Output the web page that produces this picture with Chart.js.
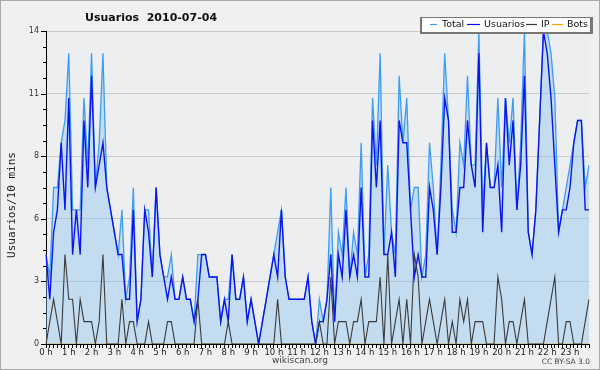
<!DOCTYPE html>
<html><head><meta charset="utf-8">
<script src="https://cdn.jsdelivr.net/npm/chart.js@4.4.0/dist/chart.umd.min.js"></script>
<style>html,body{margin:0;padding:0;background:#f0f0f0}canvas{display:block}</style>
</head><body>
<canvas id="c" width="600" height="370"></canvas>
<script>
const title = "Usuarios  2010-07-04";
const seriesNames = ["Total", "Usuarios", "IP", "Bots"];
const hourLabels = Array.from({length:24}, (_, h) => h + " h");
const yTickLabels = ["0", "3", "6", "8", "11", "14"];

const total = [
4,3,7,7,9,10,13,6,6,6,
11,8,13,7,9,13,7,6,5,4,
6,2,3,7,1,2,6,6,3,7,
4,3,3,4,2,2,3,2,2,1,
4,4,4,3,3,3,1,2,2,4,
2,2,3,1,2,1,0,1,2,3,
4,5,6,3,2,2,2,2,2,3,
1,0,2,1,2,7,1,5,4,7,
3,5,4,9,3,4,11,8,13,4,
8,5,4,12,9,11,6,7,7,3,
4,9,7,4,8,13,10,6,5,9,
8,12,8,8,14,6,9,7,7,11,
7,11,9,11,6,9,14,5,4,6,
10,14,14,13,11,5,6,7,8,9,
10,10,7,8];
const usuarios = [
4,2,5,6,9,6,11,4,6,4,
10,7,12,7,8,9,7,6,5,4,
4,2,2,6,1,2,6,5,3,7,
4,3,2,3,2,2,3,2,2,1,
2,4,4,3,3,3,1,2,1,4,
2,2,3,1,2,1,0,1,2,3,
4,3,6,3,2,2,2,2,2,3,
1,0,1,1,2,4,1,4,3,6,
3,4,3,7,3,3,10,7,10,4,
4,5,3,10,9,9,6,3,4,3,
3,7,6,4,7,11,10,5,5,7,
7,10,8,7,13,5,9,7,7,8,
5,11,8,10,6,8,12,5,4,6,
10,14,13,11,8,5,6,6,7,9,
10,10,6,6];
const ip = [
0,1,2,1,0,4,2,2,0,2,
1,1,1,0,1,4,0,0,0,0,
2,0,1,1,0,0,0,1,0,0,
0,0,1,1,0,0,0,0,0,0,
2,0,0,0,0,0,0,0,1,0,
0,0,0,0,0,0,0,0,0,0,
0,2,0,0,0,0,0,0,0,0,
0,0,1,0,0,3,0,1,1,1,
0,1,1,2,0,1,1,1,3,0,
4,0,1,2,0,2,0,4,3,0,
1,2,1,0,1,2,0,1,0,2,
1,2,0,1,1,1,0,0,0,3,
2,0,1,1,0,1,2,0,0,0,
0,0,1,2,3,0,0,1,1,0,
0,0,1,2];
const bots = new Array(144).fill(0);

// 10-minute slots, label only on the hour
const slots = [];
for (let h = 0; h < 24; h++) for (let m = 0; m < 60; m += 10) slots.push(h + ":" + (m < 10 ? "0" : "") + m);

const colors = { total: "#3d9cf5", usu: "#0a14f0", ip: "#3a3a3a", bots: "#ffa500", fill: "rgba(140,196,240,0.42)" };

const chromePlugin = {
  id: "chrome",
  beforeDraw(chart) {
    const ctx = chart.ctx, a = chart.chartArea;
    ctx.save();
    ctx.fillStyle = "#f0f0f0";
    ctx.fillRect(0, 0, 600, 370);
    ctx.strokeStyle = "#a8a8a8";
    ctx.lineWidth = 1;
    ctx.strokeRect(0.5, 0.5, 599, 369);
    ctx.fillStyle = "#edeef0";
    ctx.fillRect(a.left, a.top, a.right - a.left, a.bottom - a.top);
    ctx.restore();
  },
  afterDraw(chart) {
    const ctx = chart.ctx;
    const ys = chart.scales.y;
    ctx.save();
    // y-axis tick marks: long on labelled ticks, short between
    ctx.strokeStyle = "#000";
    ctx.lineWidth = 1;
    ys.ticks.forEach((t, i) => {
      const py = Math.round(ys.getPixelForValue(t.value)) + 0.5;
      const len = i % 4 === 0 ? 5 : 3;
      ctx.beginPath();
      ctx.moveTo(ys.right - len, py);
      ctx.lineTo(ys.right, py);
      ctx.stroke();
    });
    // title
    ctx.fillStyle = "#111";
    ctx.font = "bold 11px 'DejaVu Sans'";
    ctx.textBaseline = "alphabetic";
    ctx.textAlign = "left";
    ctx.fillText(title, 85, 21);
    // y title
    ctx.save();
    ctx.translate(12, 205);
    ctx.rotate(-Math.PI / 2);
    ctx.textAlign = "center";
    ctx.textBaseline = "middle";
    ctx.font = "11px 'DejaVu Sans Mono'";
    ctx.fillStyle = "#222";
    ctx.fillText("Usuarios/10 mins", 0, 0);
    ctx.restore();
    // footer
    ctx.fillStyle = "#444";
    ctx.font = "9px 'DejaVu Sans'";
    ctx.textAlign = "center";
    ctx.textBaseline = "middle";
    ctx.fillText("wikiscan.org", 300, 361);
    ctx.font = "7.5px 'DejaVu Sans'";
    ctx.textAlign = "right";
    ctx.fillText("CC BY-SA 3.0", 590, 362);
    // legend box
    ctx.fillStyle = "#777";
    ctx.fillRect(420, 17, 173, 17);
    ctx.fillStyle = "#ffffff";
    ctx.fillRect(422, 18, 168, 14);
    const items = [
      { name: seriesNames[0], c: colors.total, x0: 430, x1: 437, tx: 442 },
      { name: seriesNames[1], c: colors.usu, x0: 467, x1: 480, tx: 484 },
      { name: seriesNames[2], c: colors.ip, x0: 526, x1: 537, tx: 541 },
      { name: seriesNames[3], c: colors.bots, x0: 552, x1: 563, tx: 567 }
    ];
    ctx.font = "9.5px 'DejaVu Sans'";
    ctx.textAlign = "left";
    ctx.textBaseline = "middle";
    items.forEach(it => {
      ctx.strokeStyle = it.c;
      ctx.lineWidth = 1.2;
      ctx.beginPath();
      ctx.moveTo(it.x0, 24.5);
      ctx.lineTo(it.x1, 24.5);
      ctx.stroke();
      ctx.fillStyle = "#111";
      ctx.fillText(it.name, it.tx, 25);
    });
    ctx.restore();
  }
};

new Chart(document.getElementById("c"), {
  type: "line",
  data: {
    labels: slots,
    datasets: [
      { label: seriesNames[0], data: total, borderColor: colors.total, backgroundColor: colors.fill, fill: "origin", borderWidth: 1.3, pointRadius: 0, tension: 0, order: 4 },
      { label: seriesNames[1], data: usuarios, borderColor: colors.usu, borderWidth: 1.4, pointRadius: 0, tension: 0, fill: false, order: 3 },
      { label: seriesNames[2], data: ip, borderColor: colors.ip, borderWidth: 1.1, pointRadius: 0, tension: 0, fill: false, order: 2 },
      { label: seriesNames[3], data: bots, borderColor: colors.bots, borderWidth: 1, pointRadius: 0, tension: 0, fill: false, order: 5 }
    ]
  },
  options: {
    responsive: false,
    animation: false,
    devicePixelRatio: 1,
    layout: { padding: { left: 0, right: 11, top: 31, bottom: 0 } },
    plugins: { legend: { display: false }, title: { display: false }, tooltip: { enabled: false } },
    scales: {
      x: {
        type: "category",
        offset: false,
        z: 1,
        afterFit(s) { s.height = 26; },
        border: { color: "#000", width: 1 },
        grid: { drawOnChartArea: false, drawTicks: true, tickLength: 4, tickColor: "#000" },
        ticks: {
          autoSkip: false, maxRotation: 0, minRotation: 0, padding: 0,
          color: "#222", font: { family: "DejaVu Sans", size: 8.5 },
          callback: (v, i) => (i % 6 === 0 ? hourLabels[i / 6] : "")
        }
      },
      y: {
        min: 0, max: 14,
        afterFit(s) { s.width = 46; },
        border: { color: "#000", width: 1 },
        grid: {
          color: c => (c.index % 4 === 0 ? "#c9c9c9" : "rgba(0,0,0,0)"),
          drawTicks: false
        },
        ticks: {
          stepSize: 0.7, padding: 7, color: "#333",
          font: { family: "DejaVu Sans", size: 8 },
          callback: (v, i) => (i % 4 === 0 ? yTickLabels[i / 4] : "")
        }
      }
    }
  },
  plugins: [chromePlugin]
});
</script>
</body></html>
